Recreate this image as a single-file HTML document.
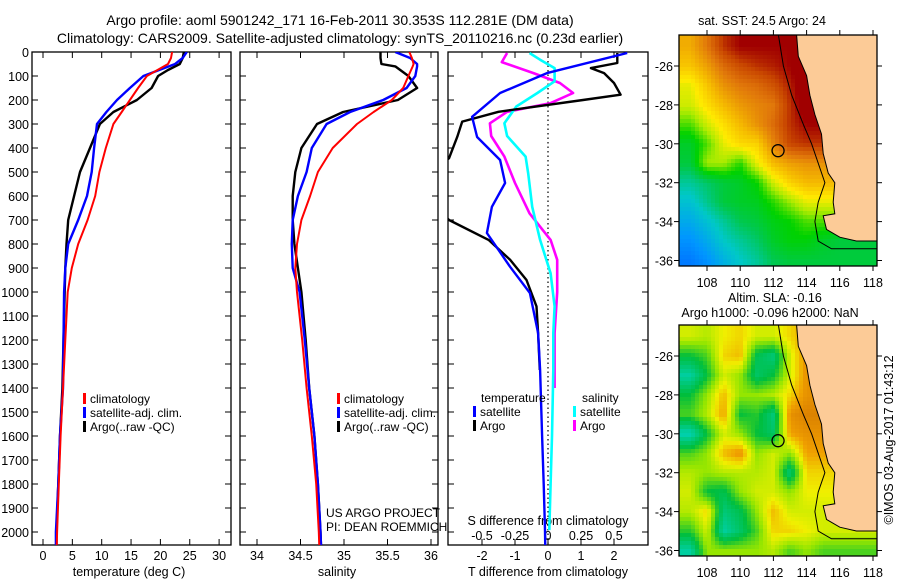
<!DOCTYPE html>
<html><head><meta charset="utf-8"><style>
html,body{margin:0;padding:0;background:#fff;}
svg{display:block;font-family:"Liberation Sans",sans-serif;}
</style></head><body>
<svg id="fig" width="900" height="580" viewBox="0 0 900 580" xmlns="http://www.w3.org/2000/svg">
<defs>
<clipPath id="c1"><rect x="32" y="52" width="199" height="493"/></clipPath>
<clipPath id="c2"><rect x="240" y="52" width="198" height="493"/></clipPath>
<clipPath id="c3"><rect x="448" y="52" width="200" height="493"/></clipPath>
<clipPath id="cm1"><rect x="679" y="35" width="198" height="231"/></clipPath>
<clipPath id="cm2"><rect x="679" y="325" width="198" height="231"/></clipPath>
</defs>
<text x="340" y="25" font-size="14" text-anchor="middle">Argo profile: aoml 5901242_171 16-Feb-2011 30.353S 112.281E (DM data)</text>
<text x="340" y="43" font-size="14" text-anchor="middle">Climatology: CARS2009. Satellite-adjusted climatology: synTS_20110216.nc (0.23d earlier)</text>
<g id="layer"></g>
</svg>
<script>
// ---------- data ----------
const depthT = [0,25,50,75,100,150,200,250,300,400,500,600,700,800,900,1000,1200,1400,1600,1800,2000,2100];
const tempClim = [22.0,21.8,21.3,19.5,17.7,16.2,14.8,13.4,12.0,10.7,9.6,8.9,7.6,6.0,4.9,4.2,3.8,3.4,3.0,2.7,2.4,2.3];
const tempSat  = [24.5,23.8,22.5,19.8,17.1,14.8,12.6,10.8,9.2,8.7,8.3,7.5,6.0,4.3,3.8,3.6,3.5,3.4,2.9,2.6,2.2,2.2];
const tempArgo = [24.0,23.8,23.3,21.3,19.6,18.5,16.0,12.0,9.7,8.0,6.3,5.3,4.3,4.0,3.8,3.7,3.5,3.3,2.9,2.6,2.3,2.3];
const depthS = [0,25,50,60,100,150,200,250,300,400,500,600,700,800,900,1000,1200,1400,1600,1800,2000,2100];
const salClim = [35.75,35.78,35.80,35.79,35.74,35.68,35.55,35.34,35.15,34.87,34.70,34.61,34.51,34.46,34.44,34.46,34.52,34.57,34.63,34.68,34.71,34.72];
const salSat  = [35.59,35.76,35.84,35.84,35.82,35.72,35.45,35.07,34.80,34.63,34.57,34.47,34.41,34.40,34.41,34.49,34.55,34.60,34.66,34.70,34.73,34.74];
const salArgo = [35.42,35.42,35.43,35.59,35.74,35.84,35.62,34.99,34.69,34.51,34.44,34.41,34.41,34.43,34.47,34.51,34.56,34.60,34.66,34.70,34.73,34.74];
const depthDT = [4,88,171,270,354,450,546,645,754,895,1004,1171,1325,1600,1800,1992,2100];
const dTsat   = [2.4,-0.03,-1.45,-2.3,-2.15,-1.45,-1.3,-1.7,-1.85,-1.15,-0.55,-0.3,-0.24,-0.18,-0.13,-0.09,-0.08];
const depthDTa = [4,46,67,88,129,178,200,249,290,353,443,500,600,700,783,866,950,1060,1171,1325];
const dTargo   = [2.1,2.1,1.3,1.7,2.0,2.2,1.06,-1.5,-2.6,-2.75,-3.0,-3.6,-3.7,-3.0,-1.8,-1.15,-0.65,-0.35,-0.3,-0.25];
const depthDS = [4,32,67,122,171,227,297,350,436,506,645,783,922,1060,1171,1325,1600,1800,1992];
const dSsat   = [-0.14,-0.06,0.05,0.05,-0.08,-0.24,-0.33,-0.31,-0.17,-0.15,-0.12,-0.06,0.02,0.05,0.04,0.04,0.03,0.02,0.01];
const depthDSa = [4,42,88,129,171,213,249,297,350,436,546,672,783,866,1000,1171,1400];
const dSargo   = [-0.31,-0.35,-0.11,0.09,0.19,0.02,-0.31,-0.44,-0.43,-0.33,-0.25,-0.14,0.02,0.07,0.07,0.05,0.05];
const depthTicks = [0,100,200,300,400,500,600,700,800,900,1000,1100,1200,1300,1400,1500,1600,1700,1800,1900,2000];
const tempTicks = [0,5,10,15,20,25,30];
const salTicks = [34,34.5,35,35.5,36];
const dTTicks = [-2,-1,0,1,2];
const dSTicks = [-0.5,-0.25,0,0.25,0.5];
const dSTickLabels = ["-0.5","-0.25","0","0.25","0.5"];
const lonTicks = [108,110,112,114,116,118];
const latTicks = [26,28,30,32,34,36];
// map grids: rows lat 25..36 S, cols lon 107..118 E
const sstGrid = [
[.72,.8,.9,.95,.95,.95,.95,1,1,1,1,1],
[.68,.74,.82,.87,.9,.92,.95,1,1,1,1,1],
[.6,.68,.76,.8,.82,.86,.92,1,1,1,1,1],
[.58,.64,.7,.75,.78,.8,.9,1,1,1,1,1],
[.5,.58,.64,.7,.76,.82,.9,.95,.95,.95,.95,.95],
[.42,.5,.6,.65,.66,.78,.88,.9,.9,.9,.9,.9],
[.4,.55,.55,.48,.6,.7,.74,.76,.76,.76,.76,.76],
[.32,.36,.4,.42,.46,.58,.66,.7,.7,.7,.7,.7],
[.26,.33,.4,.42,.43,.48,.54,.6,.6,.6,.6,.6],
[.2,.26,.32,.38,.4,.44,.46,.5,.5,.5,.5,.5],
[.14,.2,.28,.32,.36,.42,.45,.45,.42,.4,.4,.4],
[.08,.14,.22,.28,.32,.38,.4,.4,.4,.4,.4,.4]];
const slaGrid = [
[.6,.55,.65,.7,.6,.6,.7,.8,.8,.8,.8,.8],
[.3,.4,.7,.75,.25,.15,.6,.85,.85,.85,.85,.85],
[.05,.3,.6,.5,.2,.3,.6,.85,.85,.85,.85,.85],
[.3,.5,.75,.5,.5,.55,.7,.85,.85,.85,.85,.85],
[.4,.55,.8,.3,.35,.15,.85,.9,.9,.9,.9,.9],
[0,.3,.6,.5,.3,.2,.8,.85,.85,.85,.85,.85],
[.4,.5,.75,.85,.5,.6,.5,.8,.8,.8,.8,.8],
[.55,.5,.55,.55,.55,.6,.15,.7,.7,.7,.7,.7],
[.6,.3,.25,.5,.6,.6,.5,.65,.65,.65,.65,.65],
[.55,.7,.15,.25,.5,.75,.6,.6,.6,.6,.6,.6],
[.35,.6,.05,.2,.4,.7,.7,.65,.6,.6,.6,.6],
[.05,.5,.5,.5,.5,.55,.4,.5,.4,.4,.4,.4]];
const coastLon = [113.4,113.5,114.0,114.2,114.5,114.9,115.0,115.3,115.7,115.6,115.7,115.0,115.2,116.0,117.0,118.3];
const coastLat = [24.4,25.5,26.5,27.5,28.5,29.5,30.5,31.5,32.0,33.0,33.6,33.7,34.4,34.8,35.0,35.0];
const shelfLon = [112.3,112.6,113.1,113.8,114.3,115.1,114.7,114.5,114.7,115.5,118.3];
const shelfLat = [24.4,26.0,27.5,29.0,30.0,32.0,33.0,34.0,35.0,35.4,35.4];
const argoLon = 112.281, argoLat = 30.353;

// ---------- scales ----------
const yD = d => 52 + d*0.24;
const xT = t => 43 + t*5.87;
const xS = s => 257 + (s-34)*87;
const xDT = v => 548 + v*33;
const xDS = v => 548 + v*132;
const NS = "http://www.w3.org/2000/svg";
const layer = document.getElementById('layer');
function mk(tag, attrs, parent){
  const e = document.createElementNS(NS, tag);
  for (const k in attrs) e.setAttribute(k, attrs[k]);
  (parent||layer).appendChild(e);
  return e;
}
function txt(x,y,s,size,anchor,name,parent){
  const e = mk('text',{x:x,y:y,'font-size':size,'text-anchor':anchor||'middle'},parent);
  e.textContent = s;
  
  
  return e;
}
function line(depths, vals, xf, color, w, clip, name){
  const pts = depths.map((d,i)=> xf(vals[i]).toFixed(1)+','+yD(d).toFixed(1)).join(' ');
  const p = mk('polyline',{points:pts,fill:'none',stroke:color,'stroke-width':w,'stroke-linejoin':'round','clip-path':'url(#'+clip+')'});
  
  
}

// ---------- profile panels ----------
const panels = [{x:32,w:199,id:'temperature'},{x:240,w:198,id:'salinity'},{x:448,w:200,id:'difference'}];
panels.forEach(pn=>{
  const r = mk('rect',{x:pn.x,y:52,width:pn.w,height:493,fill:'none',stroke:'#000','stroke-width':1.3});
  
  
  depthTicks.forEach(d=>{
    mk('line',{x1:pn.x,x2:pn.x+6,y1:yD(d),y2:yD(d),stroke:'#000'});
    mk('line',{x1:pn.x+pn.w-6,x2:pn.x+pn.w,y1:yD(d),y2:yD(d),stroke:'#000'});
  });
});
depthTicks.forEach(d=>{ txt(29, yD(d)+5, String(d), 12.5, 'end', 'depth-tick-label'); });
tempTicks.forEach(t=>{
  mk('line',{x1:xT(t),x2:xT(t),y1:52,y2:58,stroke:'#000'});
  mk('line',{x1:xT(t),x2:xT(t),y1:539,y2:545,stroke:'#000'});
  txt(xT(t), 560, String(t), 12.5, 'middle', 'temperature-tick-label');
});
salTicks.forEach(s=>{
  mk('line',{x1:xS(s),x2:xS(s),y1:52,y2:58,stroke:'#000'});
  mk('line',{x1:xS(s),x2:xS(s),y1:539,y2:545,stroke:'#000'});
  txt(xS(s), 560, String(s), 12.5, 'middle', 'salinity-tick-label');
});
dTTicks.forEach(v=>{
  mk('line',{x1:xDT(v),x2:xDT(v),y1:52,y2:58,stroke:'#000'});
  mk('line',{x1:xDT(v),x2:xDT(v),y1:539,y2:545,stroke:'#000'});
  txt(xDT(v), 560, String(v), 12.5, 'middle', 't-diff-tick-label');
});
dSTicks.forEach((v,i)=>{ txt(xDS(v), 540, dSTickLabels[i], 12.5, 'middle', 's-diff-tick-label'); });
txt(129, 576, 'temperature (deg C)', 12.5, 'middle', 'x-axis-title-temperature');
txt(337, 576, 'salinity', 12.5, 'middle', 'x-axis-title-salinity');
txt(548, 576, 'T difference from climatology', 12.5, 'middle', 'x-axis-title-t-diff');
txt(548, 525, 'S difference from climatology', 12.5, 'middle', 'x-axis-title-s-diff');
const zl = mk('line',{x1:548,x2:548,y1:52,y2:545,stroke:'#000','stroke-dasharray':'1.5,3','stroke-width':1.2});



line(depthT, tempArgo, xT, '#000', 2.4, 'c1', 'temp-argo-line');
line(depthT, tempSat, xT, '#0000ff', 2.4, 'c1', 'temp-satellite-line');
line(depthT, tempClim, xT, '#ff0000', 2.0, 'c1', 'temp-climatology-line');
line(depthS, salArgo, xS, '#000', 2.4, 'c2', 'salinity-argo-line');
line(depthS, salSat, xS, '#0000ff', 2.4, 'c2', 'salinity-satellite-line');
line(depthS, salClim, xS, '#ff0000', 2.0, 'c2', 'salinity-climatology-line');
line(depthDSa, dSargo, xDS, '#ff00ff', 2.6, 'c3', 's-diff-argo-line');
line(depthDS, dSsat, xDS, '#00ffff', 2.6, 'c3', 's-diff-satellite-line');
line(depthDTa, dTargo, xDT, '#000', 2.4, 'c3', 't-diff-argo-line');
line(depthDT, dTsat, xDT, '#0000ff', 2.4, 'c3', 't-diff-satellite-line');

function legend(x,y,color,label,name){
  const b = mk('rect',{x:x,y:y-10,width:3,height:11,fill:color});
  
  
  txt(x+7, y, label, 12, 'start', name);
}
legend(83,403,'#ff0000','climatology','legend-entry-climatology');
legend(83,417,'#0000ff','satellite-adj. clim.','legend-entry-satellite');
legend(83,431,'#000','Argo(..raw -QC)','legend-entry-argo');
legend(337,403,'#ff0000','climatology','legend-entry-climatology');
legend(337,417,'#0000ff','satellite-adj. clim.','legend-entry-satellite');
legend(337,431,'#000','Argo(..raw -QC)','legend-entry-argo');
txt(481,402,'temperature',12,'start','legend-header-temperature');
txt(582,402,'salinity',12,'start','legend-header-salinity');
legend(473,416,'#0000ff','satellite','legend-entry-t-satellite');
legend(473,430,'#000','Argo','legend-entry-t-argo');
legend(573,416,'#00ffff','satellite','legend-entry-s-satellite');
legend(573,430,'#ff00ff','Argo','legend-entry-s-argo');
txt(326,517,'US ARGO PROJECT',12,'start','credit-project');
txt(326,531,'PI: DEAN ROEMMICH',12,'start','credit-pi');

// ---------- maps ----------
function lerpC(stops, v){
  v = Math.max(0,Math.min(1,v));
  for (let i=1;i<stops.length;i++){
    if (v<=stops[i][0]){
      const a=stops[i-1], b=stops[i], f=(v-a[0])/(b[0]-a[0]||1);
      return 'rgb('+[1,2,3].map(k=>Math.round(a[k]+(b[k]-a[k])*f)).join(',')+')';
    }
  }
  const l=stops[stops.length-1]; return 'rgb('+l[1]+','+l[2]+','+l[3]+')';
}
const sstStops = [[0,0,90,255],[.15,0,150,255],[.28,0,200,200],[.38,0,200,80],[.46,0,210,0],[.55,170,235,0],[.62,255,235,0],[.7,245,185,0],[.8,225,120,10],[.88,200,70,0],[.95,160,0,0],[1,160,0,0]];
const slaStops = [[0,0,210,180],[.3,0,190,60],[.5,150,230,0],[.65,240,240,0],[.8,240,160,0],[1,200,100,0]];
function grid(g, lon, lat){
  let c = Math.max(0,Math.min(10.999,lon-107)), r = Math.max(0,Math.min(10.999,lat-25));
  const c0=Math.floor(c), r0=Math.floor(r), fc=c-c0, fr=r-r0;
  return g[r0][c0]*(1-fc)*(1-fr)+g[r0][c0+1]*fc*(1-fr)+g[r0+1][c0]*(1-fc)*fr+g[r0+1][c0+1]*fc*fr;
}
function drawMap(top, g, stops, name, clip){
  const lonX = l => 707 + (l-108)*16.6;
  const latY = l => top + 31 + (l-26)*19.45;
  const gEl = mk('g',{'clip-path':'url(#'+clip+')'});
  
  
  const cs = 4;
  for (let y=top; y<top+231; y+=cs){
    for (let x=679; x<877; x+=cs){
      const lon = 108 + (x+cs/2-707)/16.6, lat = 26 + (y+cs/2-top-31)/19.45;
      mk('rect',{x:x,y:y,width:cs,height:cs,fill:lerpC(stops, grid(g,lon,lat))},gEl);
    }
  }
  let pts = coastLon.map((l,i)=>lonX(l).toFixed(1)+','+latY(coastLat[i]).toFixed(1));
  pts.push('880,'+latY(coastLat[coastLat.length-1]).toFixed(1), '880,'+(top-2), lonX(coastLon[0]).toFixed(1)+','+(top-2));
  const land = mk('polygon',{points:pts.join(' '),fill:'#fccb97',stroke:'#000','stroke-width':1},gEl);
  
  
  const sh = mk('polyline',{points:shelfLon.map((l,i)=>lonX(l).toFixed(1)+','+latY(shelfLat[i]).toFixed(1)).join(' '),fill:'none',stroke:'#000','stroke-width':1},gEl);
  
  
  const c = mk('circle',{cx:lonX(argoLon),cy:latY(argoLat),r:6,fill:'none',stroke:'#000','stroke-width':1.3});
  
  
  const fr = mk('rect',{x:679,y:top,width:198,height:231,fill:'none',stroke:'#000','stroke-width':1.3});
  
  
  lonTicks.forEach(l=>{
    mk('line',{x1:lonX(l),x2:lonX(l),y1:top-5,y2:top,stroke:'#000'});
    mk('line',{x1:lonX(l),x2:lonX(l),y1:top+231,y2:top+236,stroke:'#000'});
    txt(lonX(l), top+252, String(l), 12.5, 'middle', 'longitude-tick-label');
  });
  latTicks.forEach(l=>{
    mk('line',{x1:674,x2:679,y1:latY(l),y2:latY(l),stroke:'#000'});
    mk('line',{x1:877,x2:882,y1:latY(l),y2:latY(l),stroke:'#000'});
    txt(673, latY(l)+5, '-'+l, 12.5, 'end', 'latitude-tick-label');
  });
}
drawMap(35, sstGrid, sstStops, 'sst-map', 'cm1');
drawMap(325, slaGrid, slaStops, 'sla-map', 'cm2');
txt(762, 25, 'sat. SST: 24.5 Argo: 24', 12.5, 'middle', 'sst-map-title');
txt(728, 302, 'Altim. SLA: -0.16', 12.5, 'start', 'sla-map-title');
txt(770, 317, 'Argo h1000: -0.096 h2000: NaN', 12.5, 'middle', 'sla-map-subtitle');
const cr = txt(0, 0, '©IMOS 03-Aug-2017 01:43:12', 12.5, 'middle', 'imos-timestamp');
cr.setAttribute('transform','translate(893,440) rotate(-90)');
</script>
</body></html>
